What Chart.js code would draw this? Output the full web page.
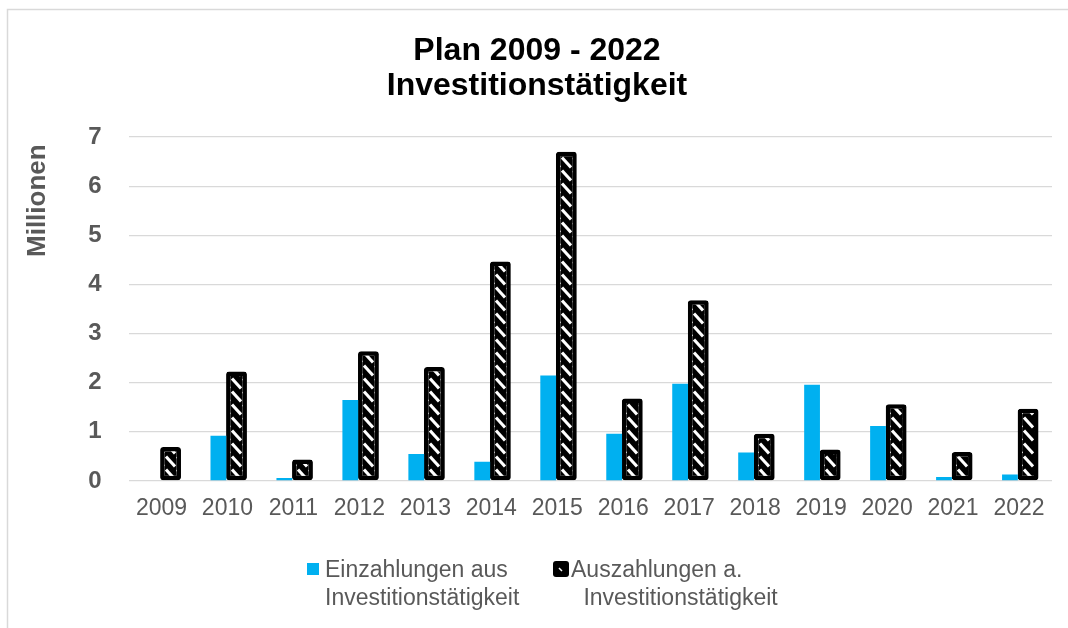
<!DOCTYPE html>
<html lang="de">
<head>
<meta charset="UTF-8" />
<script src="https://cdn.jsdelivr.net/npm/chart.js@4.4.0/dist/chart.umd.min.js"></script>
<title>Plan 2009 - 2022 Investitionstätigkeit</title>
<style>
	html, body { margin: 0; background: #fff; }
</style>
</head>
<body>
<canvas id="chart" width="1068" height="628"></canvas>
<script>
// Werte in Millionen
const jahre = ['2009', '2010', '2011', '2012', '2013', '2014', '2015', '2016', '2017', '2018', '2019', '2020', '2021', '2022'];
const einzahlungen = [0, 0.92, 0.06, 1.65, 0.55, 0.39, 2.15, 0.96, 1.98, 0.58, 1.96, 1.12, 0.08, 0.13];
const auszahlungen = [0.69, 2.23, 0.44, 2.64, 2.32, 4.47, 6.7, 1.68, 3.68, 0.96, 0.64, 1.56, 0.59, 1.47];
const yMax = 7;
const serien = ['Einzahlungen aus Investitionstätigkeit', 'Auszahlungen a. Investitionstätigkeit'];
const legendeZeilen = [['Einzahlungen aus', 'Investitionstätigkeit'], ['Auszahlungen a.', ' Investitionstätigkeit']];
const titel = ['Plan 2009 - 2022', 'Investitionstätigkeit'];

const schrift = '"Liberation Sans", Arial, sans-serif';
const grau = '#595959';
const blau = '#00B0F0';

// schwarz mit weißen schrägen Strichen
function schraffur() {
	const c = document.createElement('canvas');
	c.width = 11; c.height = 13;
	const g = c.getContext('2d');
	g.fillStyle = '#000';
	g.fillRect(0, 0, 11, 13);
	g.strokeStyle = '#fff';
	g.lineWidth = 3;
	g.beginPath();
	g.moveTo(1, 1.5);
	g.lineTo(10, 11.5);
	g.stroke();
	return g.createPattern(c, 'repeat');
}
const muster = schraffur();

const rahmen = {
	id: 'rahmen',
	beforeDraw(chart) {
		const ctx = chart.ctx;
		ctx.save();
		ctx.strokeStyle = '#d9d9d9';
		ctx.lineWidth = 1.5;
		ctx.beginPath();
		ctx.moveTo(7.5, chart.height);
		ctx.lineTo(7.5, 9.5);
		ctx.lineTo(chart.width, 9.5);
		ctx.stroke();
		ctx.restore();
	}
};

const legende = {
	id: 'legende',
	afterDraw(chart) {
		const ctx = chart.ctx;
		ctx.save();
		// Einzahlungen
		ctx.fillStyle = chart.data.datasets[0].backgroundColor;
		ctx.fillRect(307, 563, 12, 12);
		// Auszahlungen
		ctx.fillStyle = '#000';
		ctx.beginPath();
		ctx.roundRect(553, 561, 16, 16, 3);
		ctx.fill();
		ctx.strokeStyle = '#fff';
		ctx.lineWidth = 1.5;
		ctx.beginPath();
		ctx.moveTo(559, 568);
		ctx.lineTo(562, 571);
		ctx.stroke();

		ctx.font = '23px ' + schrift;
		ctx.fillStyle = grau;
		ctx.textBaseline = 'alphabetic';
		ctx.textAlign = 'left';
		ctx.fillText(legendeZeilen[0][0], 325, 577);
		ctx.fillText(legendeZeilen[0][1], 325, 605);
		ctx.fillText(legendeZeilen[1][0], 571, 577);
		ctx.fillText(legendeZeilen[1][1], 577, 605);
		ctx.restore();
	}
};

new Chart(document.getElementById('chart'), {
	type: 'bar',
	data: {
		labels: jahre,
		datasets: [
			{
				label: serien[0],
				data: einzahlungen,
				backgroundColor: blau,
				borderWidth: 0,
				barPercentage: 0.87,
				categoryPercentage: 0.55
			},
			{
				label: serien[1],
				data: auszahlungen,
				backgroundColor: muster,
				borderColor: '#000',
				borderWidth: 4.5,
				borderRadius: 3,
				borderSkipped: false,
				barPercentage: 1.15,
				categoryPercentage: 0.55
			}
		]
	},
	options: {
		responsive: false,
		animation: false,
		devicePixelRatio: 1,
		layout: { padding: { top: 0, right: 16, bottom: 107, left: 22 } },
		plugins: {
			legend: { display: false },
			tooltip: { enabled: false },
			title: {
				display: true,
				text: titel,
				color: '#000',
				font: { family: schrift, size: 32, weight: 'bold', lineHeight: 1.08 },
				padding: { top: 34, bottom: 34 }
			}
		},
		scales: {
			x: {
				grid: { display: false, drawTicks: false },
				border: { display: false },
				ticks: { color: grau, font: { family: schrift, size: 23 }, padding: 14, maxRotation: 0 },
				afterFit: (s) => { s.height = 40; }
			},
			y: {
				min: 0,
				max: yMax,
				ticks: { stepSize: 1, color: grau, font: { family: schrift, size: 24, weight: 'bold' }, padding: 27 },
				grid: { color: '#d9d9d9', lineWidth: 1.3, drawTicks: false },
				border: { display: false },
				title: {
					display: true,
					text: 'Millionen ',
					align: 'end',
					color: grau,
					font: { family: schrift, size: 26, weight: 'bold' },
					padding: { top: 0, bottom: 0 }
				},
				afterFit: (s) => { s.width = 106.5; }
			}
		}
	},
	plugins: [rahmen, legende]
});
</script>
</body>
</html>
